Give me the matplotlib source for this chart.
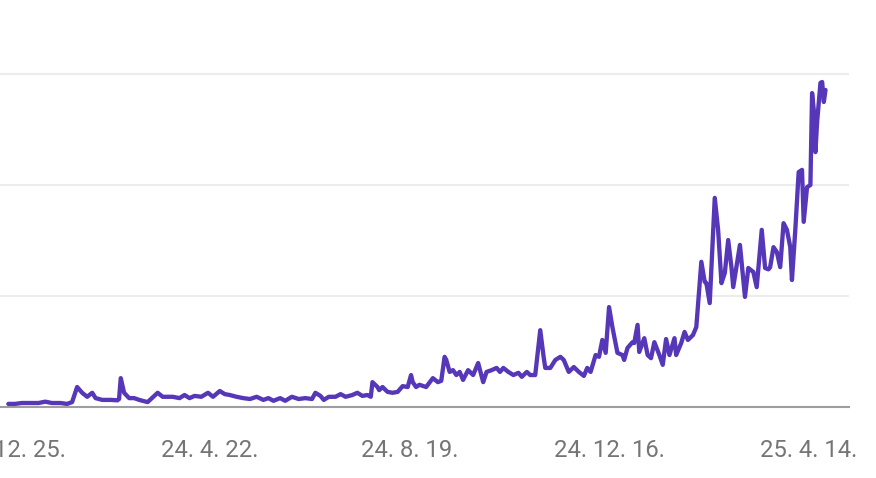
import matplotlib
matplotlib.use('Agg')
import matplotlib.pyplot as plt
import matplotlib.dates as mdates
import pandas as pd

# daily interest readings (relative scale)
dates = [
    '2023-12-24', '2023-12-28', '2024-01-01', '2024-01-06', '2024-01-11', '2024-01-15',
    '2024-01-19', '2024-01-24', '2024-01-28', '2024-01-31', '2024-02-03', '2024-02-06',
    '2024-02-09', '2024-02-12', '2024-02-14', '2024-02-18', '2024-02-23', '2024-02-27',
    '2024-02-28', '2024-02-29', '2024-03-02', '2024-03-05', '2024-03-08', '2024-03-11',
    '2024-03-16', '2024-03-22', '2024-03-25', '2024-03-31', '2024-04-04', '2024-04-07',
    '2024-04-10', '2024-04-13', '2024-04-17', '2024-04-21', '2024-04-24', '2024-04-28',
    '2024-05-01', '2024-05-04', '2024-05-08', '2024-05-12', '2024-05-16', '2024-05-20',
    '2024-05-24', '2024-05-27', '2024-05-30', '2024-06-03', '2024-06-06', '2024-06-10',
    '2024-06-14', '2024-06-18', '2024-06-22', '2024-06-24', '2024-06-27', '2024-06-29',
    '2024-07-02', '2024-07-06', '2024-07-09', '2024-07-12', '2024-07-16', '2024-07-19',
    '2024-07-22', '2024-07-25', '2024-07-27', '2024-07-28', '2024-07-31', '2024-08-01',
    '2024-08-03', '2024-08-06', '2024-08-09', '2024-08-12', '2024-08-15', '2024-08-18',
    '2024-08-20', '2024-08-21', '2024-08-23', '2024-08-25', '2024-08-29', '2024-09-02',
    '2024-09-05', '2024-09-07', '2024-09-09', '2024-09-10', '2024-09-12', '2024-09-14',
    '2024-09-16', '2024-09-18', '2024-09-20', '2024-09-23', '2024-09-26', '2024-09-29',
    '2024-10-02', '2024-10-04', '2024-10-07', '2024-10-10', '2024-10-12', '2024-10-14',
    '2024-10-17', '2024-10-20', '2024-10-23', '2024-10-25', '2024-10-28', '2024-10-30',
    '2024-11-02', '2024-11-03', '2024-11-05', '2024-11-07', '2024-11-08', '2024-11-11',
    '2024-11-14', '2024-11-17', '2024-11-19', '2024-11-22', '2024-11-25', '2024-11-28',
    '2024-12-01', '2024-12-03', '2024-12-05', '2024-12-08', '2024-12-10', '2024-12-12',
    '2024-12-14', '2024-12-16', '2024-12-18', '2024-12-21', '2024-12-24', '2024-12-25',
    '2024-12-27', '2024-12-30', '2024-12-31', '2025-01-02', '2025-01-03', '2025-01-06',
    '2025-01-08', '2025-01-10', '2025-01-12', '2025-01-15', '2025-01-17', '2025-01-19',
    '2025-01-21', '2025-01-24', '2025-01-25', '2025-01-28', '2025-01-30', '2025-02-01',
    '2025-02-04', '2025-02-06', '2025-02-09', '2025-02-11', '2025-02-12', '2025-02-14',
    '2025-02-17', '2025-02-19', '2025-02-21', '2025-02-23', '2025-02-25', '2025-02-27',
    '2025-02-28', '2025-03-04', '2025-03-07', '2025-03-09', '2025-03-12', '2025-03-14',
    '2025-03-17', '2025-03-19', '2025-03-21', '2025-03-22', '2025-03-24', '2025-03-26',
    '2025-03-28', '2025-03-30', '2025-04-01', '2025-04-03', '2025-04-04', '2025-04-06',
    '2025-04-08', '2025-04-10', '2025-04-11', '2025-04-13', '2025-04-15', '2025-04-16',
    '2025-04-17', '2025-04-18', '2025-04-19', '2025-04-21', '2025-04-22', '2025-04-23',
    '2025-04-24',
]
values = [
    0.7, 0.7, 0.9, 0.9, 0.9, 1.2,
    0.9, 0.9, 0.7, 1.1, 4.5, 3.2,
    2.3, 3.2, 2.0, 1.6, 1.6, 1.5,
    1.8, 6.5, 3.2, 2.0, 2.0, 1.6,
    1.1, 3.2, 2.3, 2.3, 2.0, 2.7,
    2.0, 2.5, 2.3, 3.2, 2.3, 3.6,
    2.9, 2.7, 2.3, 2.0, 1.8, 2.3,
    1.6, 2.0, 1.4, 2.0, 1.4, 2.3,
    1.8, 2.0, 1.8, 3.2, 2.5, 1.6,
    2.3, 2.3, 2.9, 2.3, 2.7, 3.2,
    2.5, 2.7, 2.3, 5.6, 4.5, 3.8,
    4.5, 3.4, 3.2, 3.4, 4.7, 4.5,
    7.2, 5.6, 4.5, 5.0, 4.5, 6.5,
    5.6, 5.9, 11.3, 10.6, 7.9, 8.3,
    7.2, 7.9, 6.1, 8.3, 7.2, 9.9,
    5.6, 7.9, 8.3, 8.8, 7.9, 8.8,
    7.9, 7.2, 7.7, 6.8, 7.9, 7.2,
    7.2, 10.6, 17.3, 11.3, 8.8, 8.8,
    10.6, 11.3, 10.6, 7.9, 9.0, 7.9,
    7.0, 8.8, 7.9, 11.7, 11.3, 15.1,
    12.2, 22.5, 18.0, 12.2, 11.7, 10.6,
    13.3, 14.6, 14.4, 18.5, 12.4, 15.5,
    11.7, 11.0, 14.6, 11.7, 9.5, 15.3,
    11.7, 15.5, 11.7, 14.4, 16.9, 15.1,
    16.2, 18.0, 32.7, 28.2, 27.9, 23.4,
    47.1, 39.9, 27.9, 30.2, 37.6, 31.3,
    27.0, 36.5, 24.8, 31.3, 30.4, 27.0,
    39.9, 31.3, 31.0, 31.5, 36.0, 34.9,
    31.5, 41.4, 39.9, 36.0, 28.6, 39.9,
    52.9, 53.4, 41.7, 49.5, 50.0, 70.7,
    66.9, 57.4, 64.2, 73.0, 73.2, 68.7,
    71.4,
]

tick_dates = ['2023-12-25', '2024-04-22', '2024-08-19', '2024-12-16', '2025-04-14']
tick_labels = ['23. 12. 25.', '24. 4. 22.', '24. 8. 19.', '24. 12. 16.', '25. 4. 14.']
grid_levels = [25, 50, 75]

x = pd.to_datetime(dates)
ticks = pd.to_datetime(tick_dates)

fig = plt.figure(figsize=(8.76, 4.78), dpi=100)
ax = fig.add_axes([0, 71 / 478, 849 / 876, 407 / 478])

for g in grid_levels:
    ax.axhline(g, color='#ececec', lw=1.5, zorder=1)

ax.plot(x, values, color='#5537b8', lw=3.1, solid_joinstyle='round',
        solid_capstyle='round', clip_on=False, zorder=3)

t0 = mdates.date2num(ticks[0])
ax.set_xlim(t0 - 10 / 1.678, t0 + 839 / 1.678)
ax.set_ylim(0, 407 / 4.44)

ax.set_xticks(ticks)
ax.set_xticklabels(tick_labels, fontfamily='Roboto', fontsize=17.2, color='#757575')
ax.tick_params(axis='x', length=0, pad=23)
ax.set_yticks([])

for s in ['top', 'left', 'right']:
    ax.spines[s].set_visible(False)
ax.spines['bottom'].set_color('#9e9e9e')
ax.spines['bottom'].set_linewidth(1.5)
ax.spines['bottom'].set_zorder(2)

fig.savefig('out.png', dpi=100)
